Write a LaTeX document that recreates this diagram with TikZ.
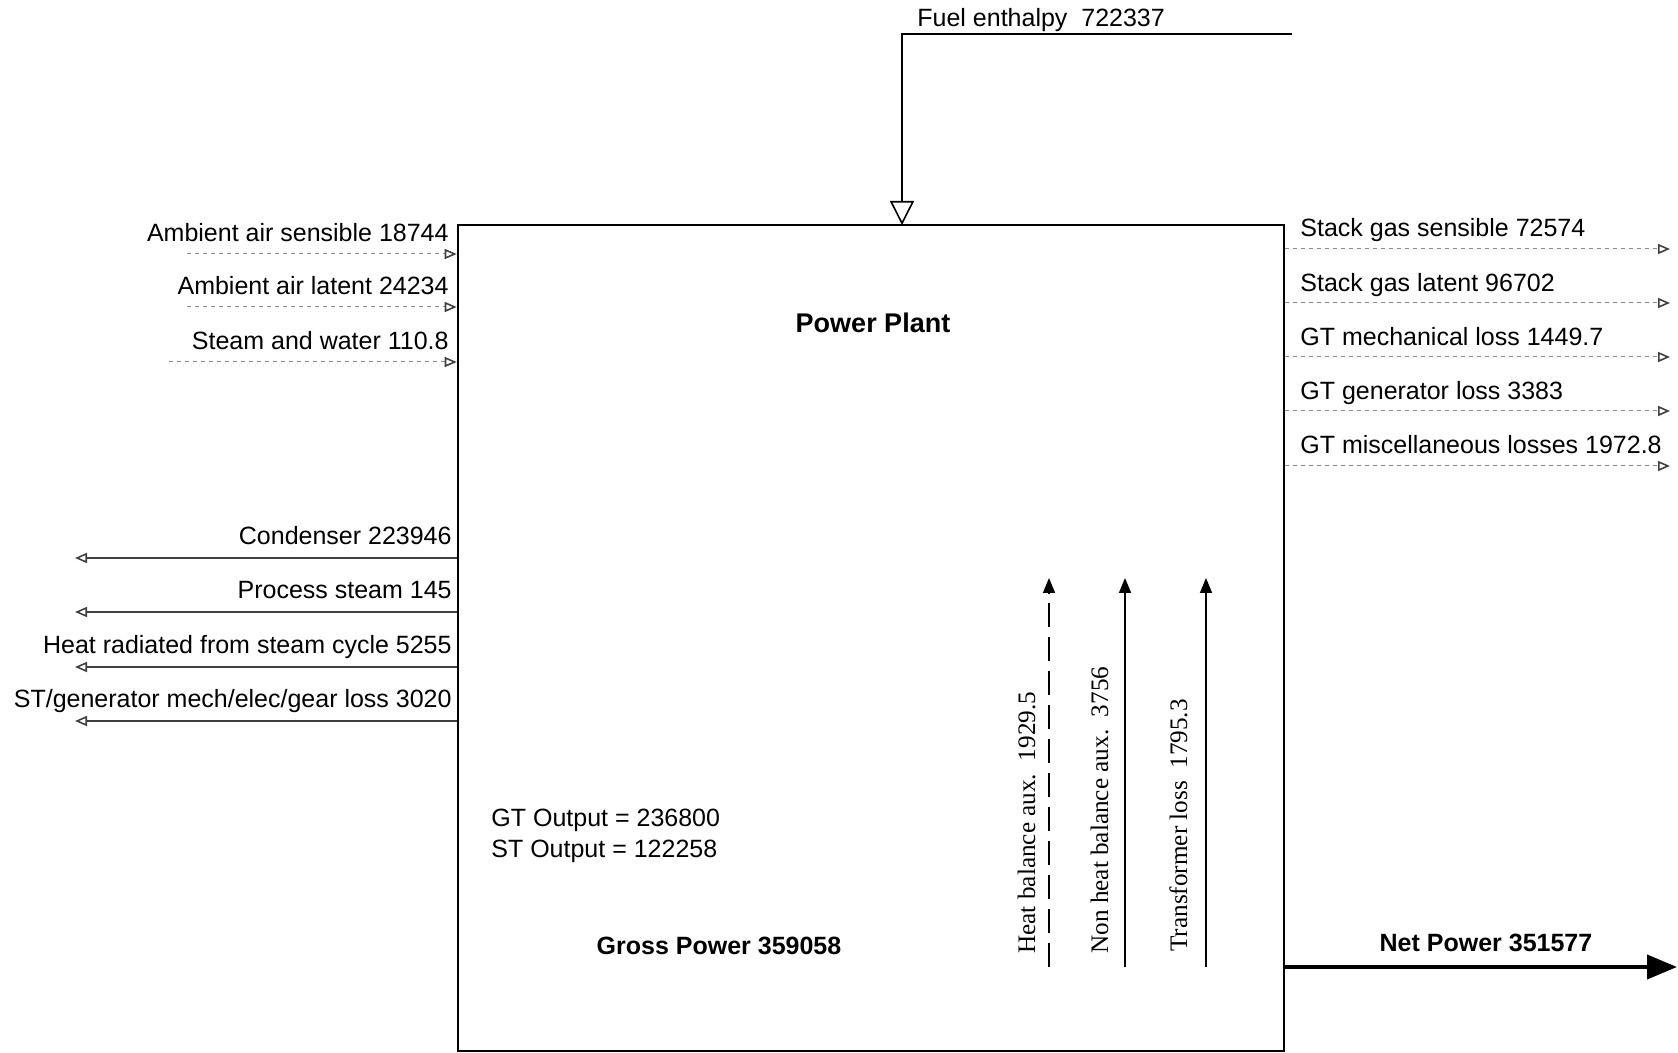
\documentclass[tikz,border=0pt]{standalone}
\usepackage{fontspec}
\setmainfont{Liberation Sans}
\newfontfamily\serifauxfont{Liberation Serif}
\usetikzlibrary{arrows.meta, positioning, calc}

\begin{document}
\begin{tikzpicture}[
		x=0.5pt, y=-0.5pt,
		plant/.style={draw, line width=1.3pt, minimum width=413pt, minimum height=413pt, inner sep=0pt},
		lbl/.style={font=\fontsize{12.5}{14}\selectfont, inner sep=0pt},
		boldlbl/.style={font=\fontsize{12.5}{14}\selectfont\bfseries, inner sep=0pt},
		auxlbl/.style={font=\serifauxfont\fontsize{12.6}{15}\selectfont, rotate=90, anchor=base west, inner sep=0pt},
		flowin/.style={draw=black!45, line width=0.5pt, dash pattern=on 2pt off 2pt,
				-{Triangle[open, length=6pt, width=5pt, line width=0.8pt, color=black!75]}},
		flowout/.style={draw=black!75, line width=0.6pt,
				-{Triangle[open, length=6pt, width=5pt, line width=0.8pt]}},
		auxflow/.style={line width=0.8pt, -{Triangle[length=7.5pt, width=6pt]}},
	]
	\useasboundingbox (0,0) rectangle (1678,1053);

	% -- the plant --
	\node [plant] (plant) at (871,638) {};
	\node [boldlbl, font=\fontsize{13.5}{15}\selectfont\bfseries] (title) at (873,323) {Power Plant};
	\node [lbl, anchor=west, align=left] (gtout) at (491,820) {GT Output = 236800};
	\node [lbl, anchor=west, align=left] (stout) at (491,851) {ST Output = 122258};
	\node [boldlbl] (gross) at (719,946) {Gross Power 359058};

	% -- fuel --
	\coordinate (fuelsrc) at (1292,34);
	\coordinate (fuelin) at (902,225);
	\draw[line width=1.4pt, -{Triangle[open, length=12pt, width=12pt, line width=0.8pt]}]
		(fuelsrc) -| (fuelin);
	\node [lbl, anchor=base west] (fuel) at (917,27) {Fuel enthalpy~~722337};

	% -- inflows on the left --
	\coordinate (as) at (187,254);
	\coordinate (al) at (187,307);
	\coordinate (sw) at (169,362);
	\draw[flowin] (as) -- (as -| plant.west);
	\draw[flowin] (al) -- (al -| plant.west);
	\draw[flowin] (sw) -- (sw -| plant.west);
	\node [lbl, anchor=base east] (aslbl) at (449,242) {Ambient air sensible 18744};
	\node [lbl, anchor=base east] (allbl) at (449,295) {Ambient air latent 24234};
	\node [lbl, anchor=base east] (swlbl) at (449,350) {Steam and water 110.8};

	% -- outflows on the left --
	\coordinate (cd) at (75,558);
	\coordinate (ps) at (75,612);
	\coordinate (hr) at (75,667);
	\coordinate (st) at (75,721);
	\draw[flowout] (cd -| plant.west) -- (cd);
	\draw[flowout] (ps -| plant.west) -- (ps);
	\draw[flowout] (hr -| plant.west) -- (hr);
	\draw[flowout] (st -| plant.west) -- (st);
	\node [lbl, anchor=base east] (cdlbl) at (452,545) {Condenser 223946};
	\node [lbl, anchor=base east] (pslbl) at (452,599) {Process steam 145};
	\node [lbl, anchor=base east] (hrlbl) at (452,654) {Heat radiated from steam cycle 5255};
	\node [lbl, anchor=base east] (stlbl) at (452,708) {ST/generator mech/elec/gear loss 3020};

	% -- outflows on the right --
	\coordinate (sgs) at (1670,249);
	\coordinate (sgl) at (1670,303);
	\coordinate (gtm) at (1670,357);
	\coordinate (gtg) at (1670,411);
	\coordinate (gtx) at (1670,466);
	\draw[flowin] (sgs -| plant.east) -- (sgs);
	\draw[flowin] (sgl -| plant.east) -- (sgl);
	\draw[flowin] (gtm -| plant.east) -- (gtm);
	\draw[flowin] (gtg -| plant.east) -- (gtg);
	\draw[flowin] (gtx -| plant.east) -- (gtx);
	\node [lbl, anchor=base west] (sgslbl) at (1300,237) {Stack gas sensible 72574};
	\node [lbl, anchor=base west] (sgllbl) at (1300,292) {Stack gas latent 96702};
	\node [lbl, anchor=base west] (gtmlbl) at (1300,346) {GT mechanical loss 1449.7};
	\node [lbl, anchor=base west] (gtglbl) at (1300,400) {GT generator loss 3383};
	\node [lbl, anchor=base west] (gtxlbl) at (1300,454) {GT miscellaneous losses 1972.8};

	% -- auxiliaries --
	\coordinate (hb0) at (1049,967);
	\coordinate (hb1) at (1049,578);
	\coordinate (nh0) at (1125,967);
	\coordinate (nh1) at (1125,578);
	\coordinate (tl0) at (1206,967);
	\coordinate (tl1) at (1206,578);
	\draw[auxflow, dash pattern=on 12pt off 5pt] (hb0) -- (hb1);
	\draw[auxflow] (nh0) -- (nh1);
	\draw[auxflow] (tl0) -- (tl1);
	\node [auxlbl] (hblbl) at (1035,954) {Heat balance aux.~~1929.5};
	\node [auxlbl] (nhlbl) at (1108,954) {Non heat balance aux.~~3756};
	\node [auxlbl] (tllbl) at (1187,952) {Transformer loss~~1795.3};

	% -- net power --
	\coordinate (np) at (1677,967);
	\draw[line width=2pt, -{Triangle[length=15pt, width=12pt]}] (np -| plant.east) -- (np);
	\node [boldlbl, anchor=base] (net) at (1486,951) {Net Power 351577};
\end{tikzpicture}
\end{document}
